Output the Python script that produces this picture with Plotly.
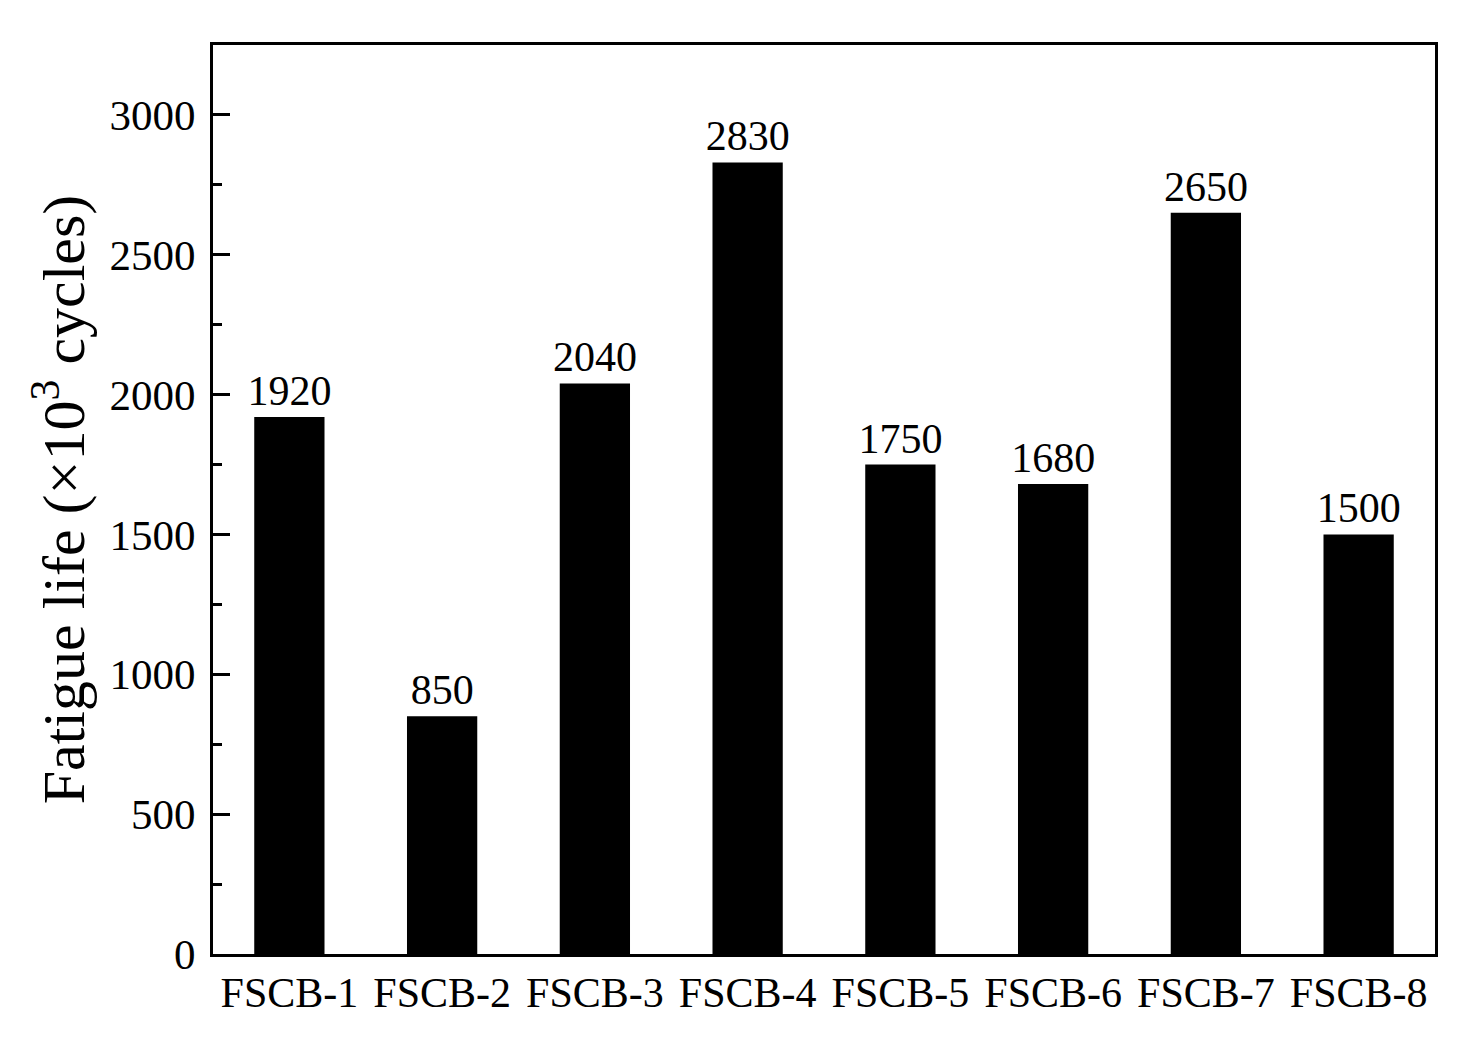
import plotly.graph_objects as go

specimens = ["FSCB-1", "FSCB-2", "FSCB-3", "FSCB-4", "FSCB-5", "FSCB-6", "FSCB-7", "FSCB-8"]
fatigue_life = [1920, 850, 2040, 2830, 1750, 1680, 2650, 1500]

font_name = "Liberation Serif, Times New Roman, serif"

fig = go.Figure(go.Bar(
    x=specimens,
    y=fatigue_life,
    marker=dict(color="black", line=dict(width=0)),
    width=0.46,
    text=[str(v) for v in fatigue_life],
    textposition="outside",
    textfont=dict(family=font_name, size=42, color="black"),
    constraintext="none",
    cliponaxis=False,
))

# page body adds a small offset, margins compensate
fig.update_layout(
    width=1481, height=1057,
    margin=dict(l=205, r=54, t=37, b=111),
    plot_bgcolor="white", paper_bgcolor="white",
    font=dict(family=font_name, size=42, color="black"),
    showlegend=False,
)
fig.update_xaxes(
    showline=True, linecolor="black", linewidth=3, mirror=True,
    ticks="", showgrid=False,
    tickfont=dict(size=42),
)
fig.update_yaxes(
    range=[0, 3250],
    dtick=500, tick0=0,
    showline=True, linecolor="black", linewidth=3, mirror=True,
    ticks="inside", ticklen=17, tickwidth=3, tickcolor="black",
    minor=dict(ticks="inside", ticklen=9, tickwidth=3, dtick=250, tickcolor="black"),
    showgrid=False, zeroline=False,
    tickfont=dict(size=43),
    ticklabelstandoff=6,
    title=dict(text="Fatigue life (×10<sup>3</sup> cycles)", font=dict(size=60), standoff=6),
)

fig.write_html("out.html")
